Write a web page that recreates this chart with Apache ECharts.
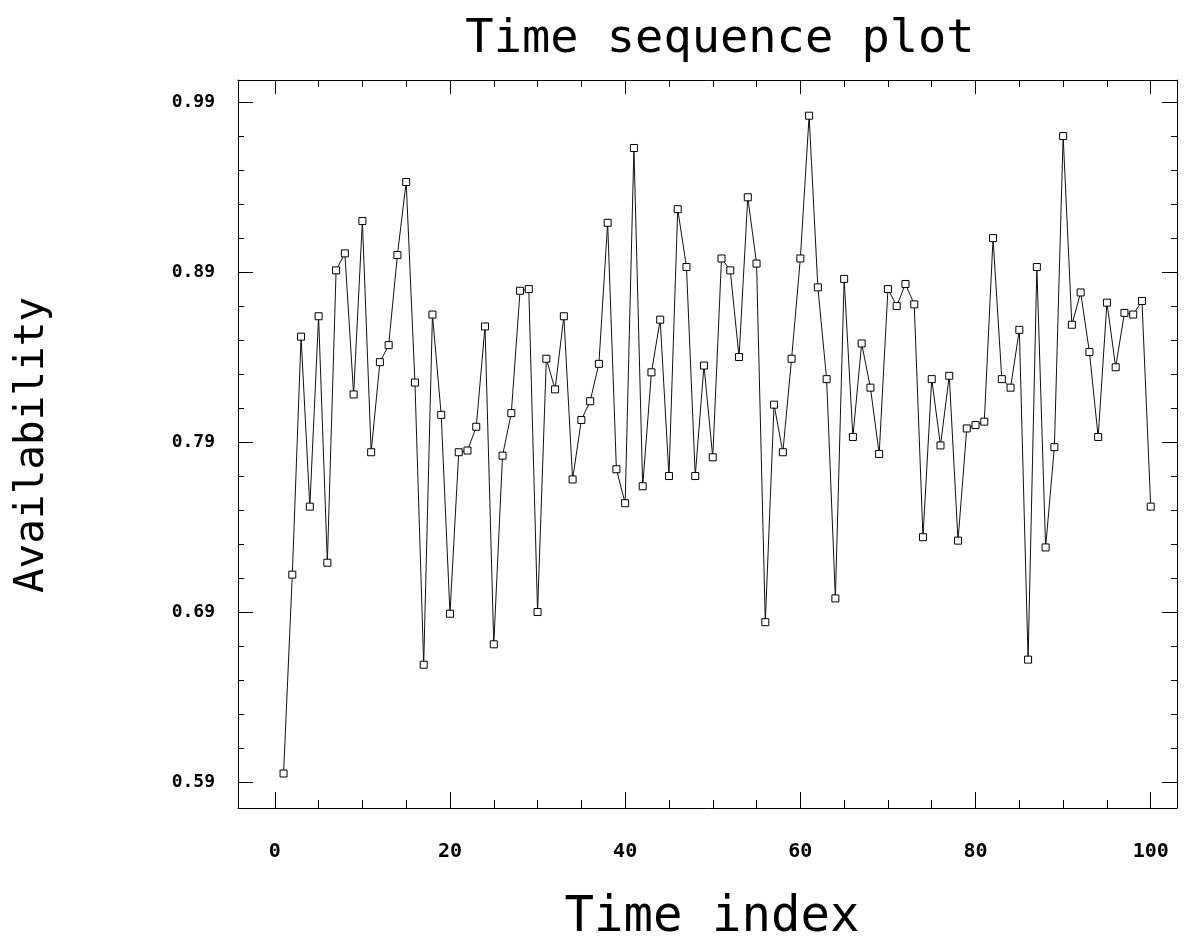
<!DOCTYPE html>
<html>
<head>
<meta charset="utf-8">
<script src="https://cdn.jsdelivr.net/npm/echarts@6/dist/echarts.min.js"></script>
<style>html,body{margin:0;padding:0;background:#fff;}#c{width:1189px;height:947px;}</style>
</head>
<body>
<div id="c"></div>
<script>
// ---- data ----
var timeIndex = [];
for (var k = 1; k <= 100; k++) timeIndex.push(k);
var availability = [
  0.595, 0.712, 0.852, 0.752, 0.864, 0.719, 0.891, 0.901, 0.818, 0.920,
  0.784, 0.837, 0.847, 0.900, 0.943, 0.825, 0.659, 0.865, 0.806, 0.689,
  0.784, 0.785, 0.799, 0.858, 0.671, 0.782, 0.807, 0.879, 0.880, 0.690,
  0.839, 0.821, 0.864, 0.768, 0.803, 0.814, 0.836, 0.919, 0.774, 0.754,
  0.963, 0.764, 0.831, 0.862, 0.770, 0.927, 0.893, 0.770, 0.835, 0.781,
  0.898, 0.891, 0.840, 0.934, 0.895, 0.684, 0.812, 0.784, 0.839, 0.898,
  0.982, 0.881, 0.827, 0.698, 0.886, 0.793, 0.848, 0.822, 0.783, 0.880,
  0.870, 0.883, 0.871, 0.734, 0.827, 0.788, 0.829, 0.732, 0.798, 0.800,
  0.802, 0.910, 0.827, 0.822, 0.856, 0.662, 0.893, 0.728, 0.787, 0.970,
  0.859, 0.878, 0.843, 0.793, 0.872, 0.834, 0.866, 0.865, 0.873, 0.752
];
var xTickLabels = [0, 20, 40, 60, 80, 100];
var xMinorTicks = [0, 5, 10, 15, 20, 25, 30, 35, 40, 45, 50, 55, 60, 65, 70, 75, 80, 85, 90, 95, 100];
var yTickLabels = [0.59, 0.69, 0.79, 0.89, 0.99];
var yMinorTicks = [0.59, 0.61, 0.63, 0.65, 0.67, 0.69, 0.71, 0.73, 0.75, 0.77, 0.79, 0.81, 0.83, 0.85, 0.87, 0.89, 0.91, 0.93, 0.95, 0.97, 0.99];

var seriesData = timeIndex.map(function (t, i) { return [t, availability[i]]; });

var FONT = '"DejaVu Sans Mono", "Liberation Mono", monospace';
var XMIN = -4.2, XMAX = 103, YMIN = 0.5747, YMAX = 1.003;

function xAx(pos, ticks, len, showLine, labels) {
  return {
    type: 'value', position: pos, min: XMIN, max: XMAX, offset: 0,
    axisLine: { show: showLine, onZero: false, lineStyle: { color: '#000', width: 1 } },
    axisTick: { show: true, inside: true, length: len, customValues: ticks, lineStyle: { color: '#000', width: 1 } },
    axisLabel: labels ? { show: true, customValues: labels, margin: 34, color: '#000', fontFamily: FONT, fontSize: 20, fontWeight: 'bold' } : { show: false },
    splitLine: { show: false }
  };
}
function yAx(pos, ticks, len, showLine, labels) {
  return {
    type: 'value', position: pos, min: YMIN, max: YMAX, offset: 0,
    axisLine: { show: showLine, onZero: false, lineStyle: { color: '#000', width: 1 } },
    axisTick: { show: true, inside: true, length: len, customValues: ticks, lineStyle: { color: '#000', width: 1 } },
    axisLabel: labels ? { show: true, customValues: labels, margin: 23, color: '#000', fontFamily: FONT, fontSize: 18, fontWeight: 'bold',
      formatter: function (v) { return v.toFixed(2); } } : { show: false },
    splitLine: { show: false }
  };
}

var chart = echarts.init(document.getElementById('c'), null, { renderer: 'canvas' });
chart.setOption({
  backgroundColor: '#fff',
  animation: false,
  grid: { left: 238, right: 12, top: 80, bottom: 139, containLabel: false },
  xAxis: [
    xAx('bottom', xTickLabels, 16, true, xTickLabels),
    xAx('bottom', xMinorTicks, 8, false, null),
    xAx('top', xTickLabels, 14, true, null),
    xAx('top', xMinorTicks, 7, false, null)
  ],
  yAxis: [
    yAx('left', yTickLabels, 15, true, yTickLabels),
    yAx('left', yMinorTicks, 6, false, null),
    yAx('right', yTickLabels, 15, true, null),
    yAx('right', yMinorTicks, 6, false, null)
  ],
  graphic: [
    { type: 'text', x: 720, y: 40, style: { text: 'Time sequence plot', font: '47px ' + FONT, fill: '#000', textAlign: 'center', textVerticalAlign: 'middle' } },
    { type: 'text', x: 712, y: 918, style: { text: 'Time index', font: '49px ' + FONT, fill: '#000', textAlign: 'center', textVerticalAlign: 'middle' } },
    { type: 'text', x: 32, y: 445, rotation: Math.PI / 2, style: { text: 'Availability', font: '41px ' + FONT, fill: '#000', textAlign: 'center', textVerticalAlign: 'middle' } }
  ],
  series: [{
    type: 'line',
    xAxisIndex: 0, yAxisIndex: 0,
    data: seriesData,
    symbol: 'rect', symbolSize: 7, showAllSymbol: true,
    lineStyle: { color: '#111', width: 1 },
    itemStyle: { color: '#fff', borderColor: '#000', borderWidth: 1 },
    emphasis: { disabled: true }
  }]
});
</script>
</body>
</html>
